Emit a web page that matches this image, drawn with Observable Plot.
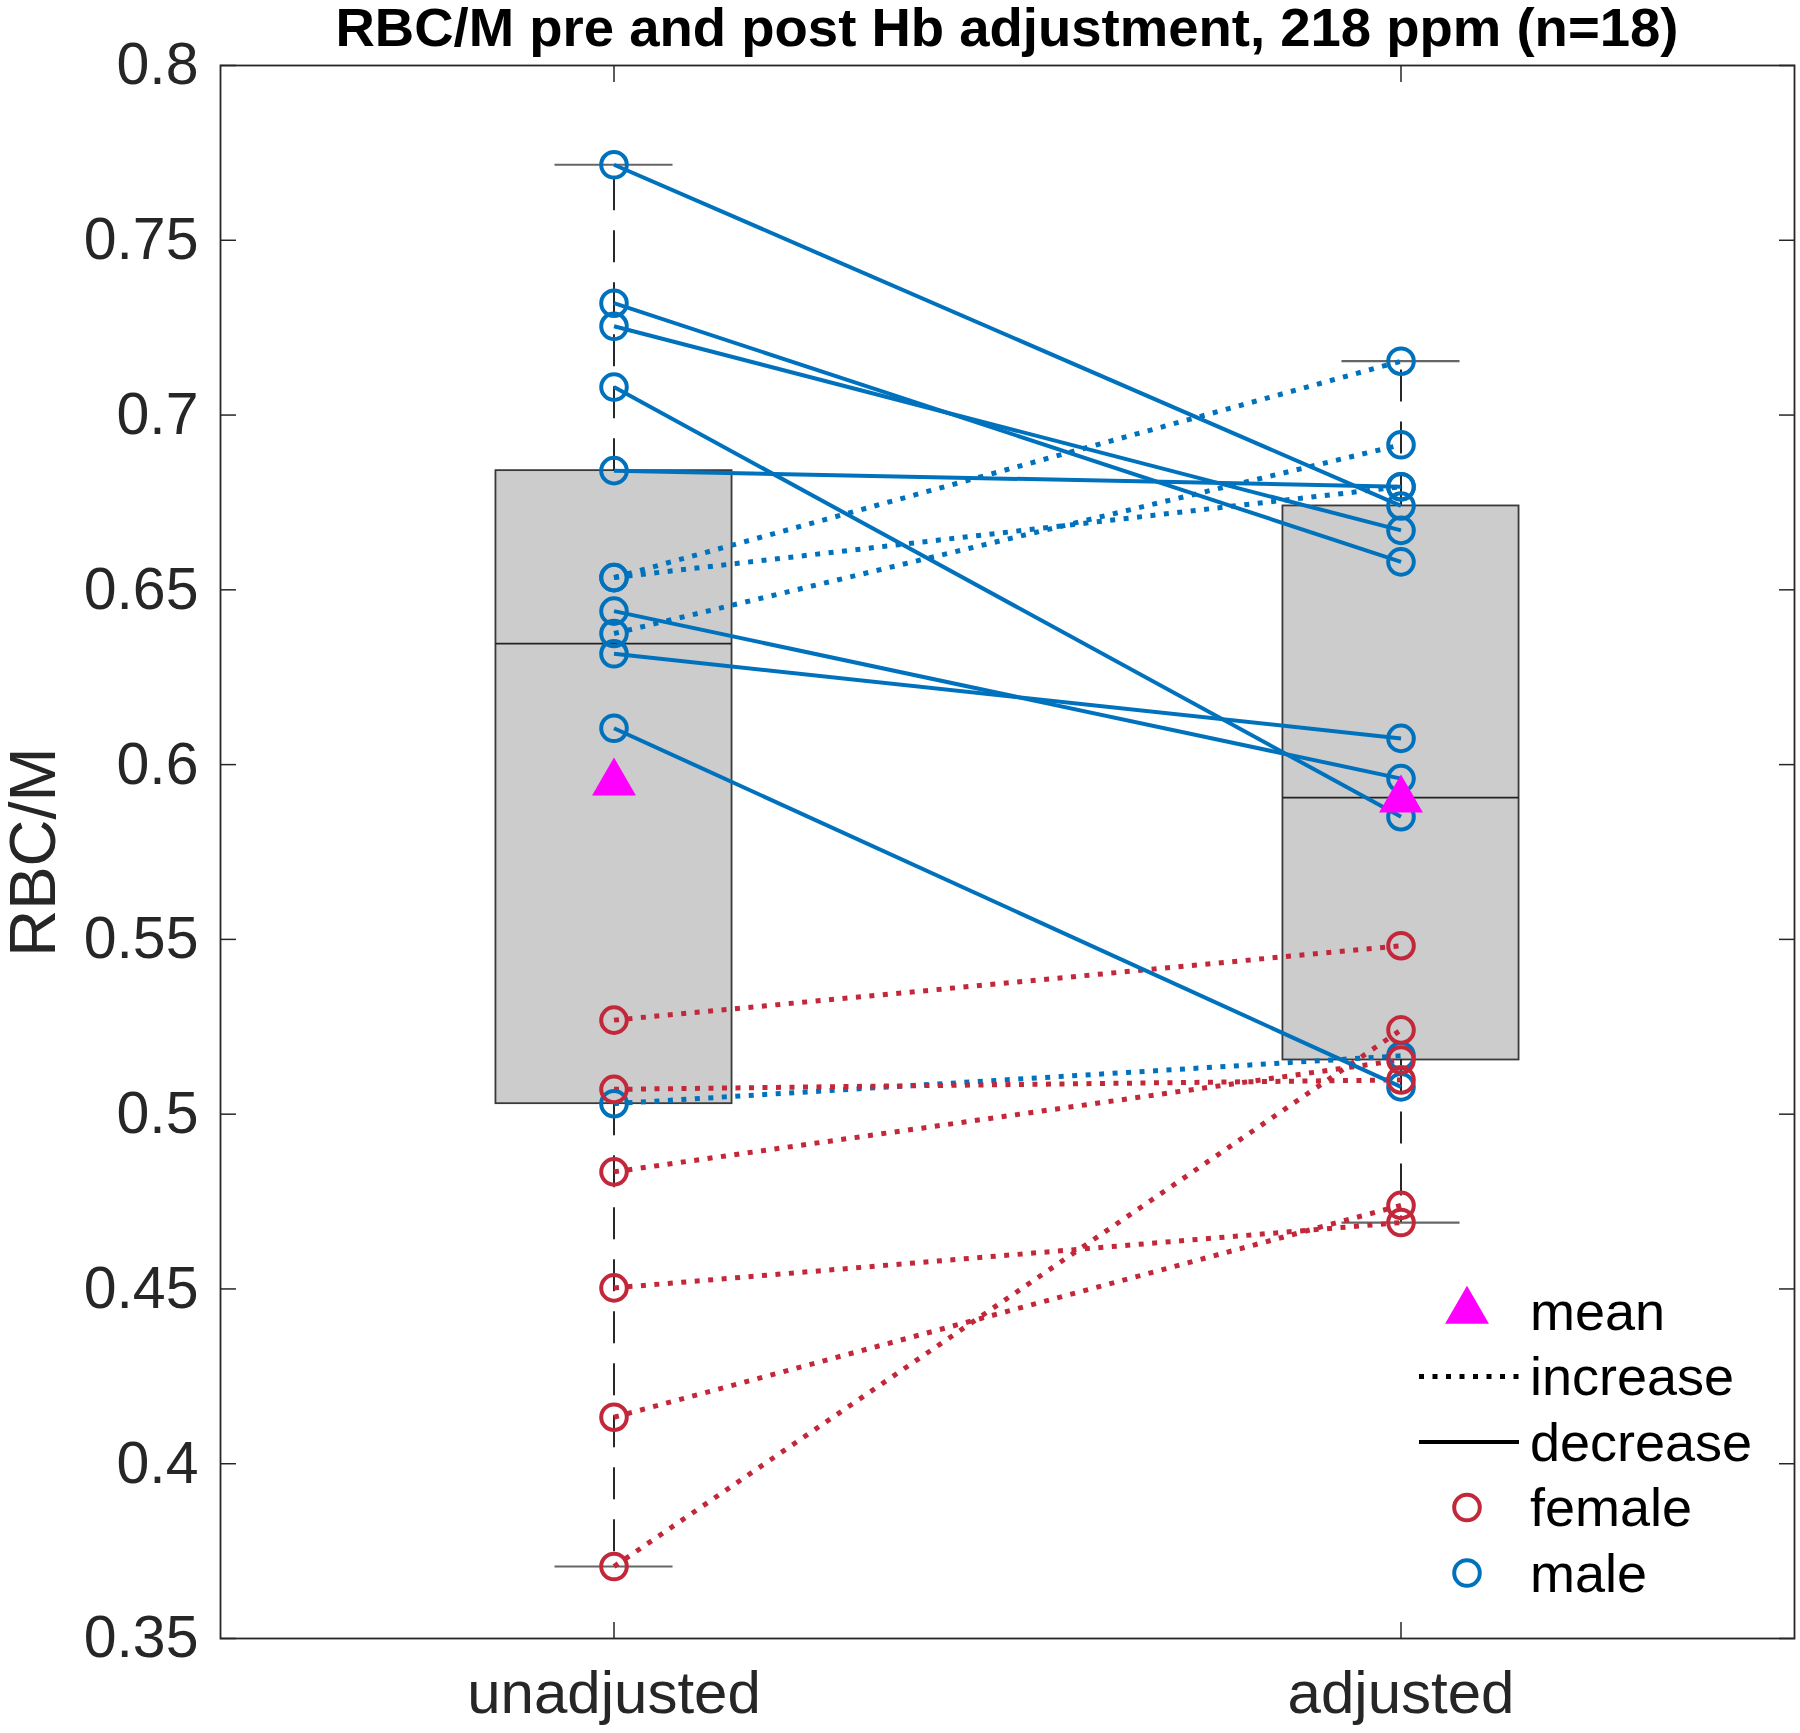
<!DOCTYPE html>
<html>
<head>
<meta charset="utf-8">
<script src="https://cdn.jsdelivr.net/npm/d3@7"></script>
<script src="https://cdn.jsdelivr.net/npm/@observablehq/plot@0.6"></script>
<style>
  body { margin: 0; background: #fff; font-family: "Liberation Sans", Arial, Helvetica, sans-serif; }
  #wrap { position: relative; width: 1800px; height: 1733px; overflow: hidden; }
  #chart { position: absolute; left: 0; top: 0; }
  #title { position: absolute; left: 220px; width: 1574px; top: 0; height: 60px; line-height: 56px;
           text-align: center; font-weight: bold; font-size: 54.5px; color: #000; white-space: nowrap; }
  #legend { position: absolute; left: 0; top: 0; pointer-events: none; }
</style>
</head>
<body>
<div id="wrap">
  <div id="chart"></div>
  <div id="title">RBC/M pre and post Hb adjustment, 218 ppm (n=18)</div>
  <svg id="legend" width="1800" height="1733"></svg>
</div>
<script>
// ---------------- data ----------------
const conditions = ["unadjusted", "adjusted"];
const conditionX = [1, 2];
const subjectSex = [
  "male", "male", "male", "male", "male", "male",
  "male", "male", "male", "male", "male", "male",
  "female", "female", "female", "female", "female", "female"
];
const unadjusted = [
  0.7716, 0.7320, 0.7254, 0.7080, 0.6841, 0.6535,
  0.6535, 0.6375, 0.6439, 0.6317, 0.6104, 0.5030,
  0.5269, 0.5071, 0.4835, 0.4503, 0.4133, 0.3706
];
const adjusted = [
  0.6740, 0.6580, 0.6670, 0.5851, 0.6795, 0.7154,
  0.6795, 0.6915, 0.5960, 0.6075, 0.5078, 0.5167,
  0.5482, 0.5098, 0.5155, 0.4690, 0.4739, 0.5241
];
const yTicks = [0.35, 0.4, 0.45, 0.5, 0.55, 0.6, 0.65, 0.7, 0.75, 0.8];
const legendLabels = ["mean", "increase", "decrease", "female", "male"];
const sexDomain = ["male", "female"];

// ---------------- styles ----------------
const BLUE = "#0072BD", RED = "#C3283A", MAGENTA = "#FF00FF";
const AXIS = "#262626";
const FONT = '"Liberation Sans", Arial, Helvetica, sans-serif';
const BOX_HALF = 0.15, CAP_HALF = 0.075;
const DOT_R = 12.8, DOT_SW = 4;
const TRI_R = 16.3;
const DOTTED = "5,8.5", DOTTED_W = 5, SOLID_W = 4;

// ---------------- derived ----------------
const subjects = subjectSex.map((sex, i) => ({
  sex, pre: unadjusted[i], post: adjusted[i],
  dir: adjusted[i] >= unadjusted[i] ? "increase" : "decrease"
}));
const ordered = [...subjects.filter(d => d.sex === "male"), ...subjects.filter(d => d.sex === "female")];
const points = ordered.flatMap(d => [
  {x: conditionX[0], y: d.pre, sex: d.sex},
  {x: conditionX[1], y: d.post, sex: d.sex}
]);

// MATLAB-style percentile (midpoint method)
function pct(values, p) {
  const s = [...values].sort((a, b) => a - b), n = s.length;
  const pos = p * n + 0.5;
  if (pos <= 1) return s[0];
  if (pos >= n) return s[n - 1];
  const i = Math.floor(pos), f = pos - i;
  return s[i - 1] + f * (s[i] - s[i - 1]);
}
const stats = [unadjusted, adjusted].map((v, k) => ({
  x: conditionX[k],
  q1: pct(v, 0.25), med: pct(v, 0.5), q3: pct(v, 0.75),
  lo: d3.min(v), hi: d3.max(v), mean: d3.mean(v)
}));

const chart = Plot.plot({
  width: 1800, height: 1733,
  marginTop: 65, marginBottom: 95, marginLeft: 220, marginRight: 6,
  x: {domain: [0.5, 2.5]},
  y: {domain: [0.35, 0.8]},
  color: {domain: sexDomain, range: [BLUE, RED]},
  style: {fontFamily: FONT, background: "#fff", overflow: "visible"},
  marks: [
    // boxes
    Plot.rect(stats, {x1: d => d.x - BOX_HALF, x2: d => d.x + BOX_HALF, y1: "q1", y2: "q3",
      fill: "#cccccc", stroke: "#3a3a3a", strokeWidth: 1.8}),
    Plot.ruleY(stats, {y: "med", x1: d => d.x - BOX_HALF, x2: d => d.x + BOX_HALF, stroke: "#222", strokeWidth: 1.8}),
    // whiskers
    Plot.ruleX(stats, {x: "x", y1: "q3", y2: "hi", stroke: "#111", strokeWidth: 1.8, strokeDasharray: "32,20"}),
    Plot.ruleX(stats, {x: "x", y1: "q1", y2: "lo", stroke: "#111", strokeWidth: 1.8, strokeDasharray: "32,20"}),
    Plot.ruleY(stats, {y: "hi", x1: d => d.x - CAP_HALF, x2: d => d.x + CAP_HALF, stroke: "#666", strokeWidth: 2.2}),
    Plot.ruleY(stats, {y: "lo", x1: d => d.x - CAP_HALF, x2: d => d.x + CAP_HALF, stroke: "#666", strokeWidth: 2.2}),
    // subject lines
    Plot.link(ordered.filter(d => d.dir === "increase"), {
      x1: () => conditionX[0], x2: () => conditionX[1], y1: "pre", y2: "post", stroke: "sex",
      strokeWidth: DOTTED_W, strokeDasharray: DOTTED, strokeLinecap: "butt"}),
    Plot.link(ordered.filter(d => d.dir === "decrease"), {
      x1: () => conditionX[0], x2: () => conditionX[1], y1: "pre", y2: "post", stroke: "sex",
      strokeWidth: SOLID_W}),
    // subject points
    Plot.dot(points, {x: "x", y: "y", stroke: "sex", r: DOT_R, strokeWidth: DOT_SW, fill: "none"}),
    // means
    Plot.dot(stats, {x: "x", y: "mean", symbol: "triangle", r: TRI_R, fill: MAGENTA, stroke: "none"}),
    // frame and axes
    Plot.frame({stroke: AXIS, strokeWidth: 1.8}),
    Plot.axisY({anchor: "left", ticks: yTicks, tickSize: -16, tickPadding: 38, tickFormat: d => String(d),
      fontSize: 59, color: AXIS, strokeWidth: 1.5, label: null}),
    Plot.axisY({anchor: "right", ticks: yTicks, tickSize: -16, tickFormat: () => "", color: AXIS, strokeWidth: 1.5, label: null}),
    Plot.axisX({anchor: "bottom", ticks: conditionX, tickSize: -16, tickPadding: 48,
      tickFormat: d => conditions[conditionX.indexOf(d)], fontSize: 60, color: AXIS, strokeWidth: 1.5, label: null}),
    Plot.axisX({anchor: "top", ticks: conditionX, tickSize: -16, tickFormat: () => "", color: AXIS, strokeWidth: 1.5, label: null}),
    // y label
    Plot.text(["RBC/M"], {frameAnchor: "left", textAnchor: "middle", rotate: -90, dx: -186, fontSize: 65, fill: AXIS})
  ]
});
document.getElementById("chart").appendChild(chart);

// ---------------- legend (inside axes, lower right) ----------------
const lg = d3.select("#legend");
const rowY0 = 1311, rowStep = 65.5, symX = 1467, lineX1 = 1419, lineX2 = 1519, textX = 1530;
legendLabels.forEach((label, i) => {
  const y = rowY0 + i * rowStep;
  if (label === "mean") {
    lg.append("path").attr("d", d3.symbol(d3.symbolTriangle, Math.PI * TRI_R * TRI_R)())
      .attr("transform", `translate(${symX},${y})`).attr("fill", MAGENTA);
  } else if (label === "increase") {
    lg.append("line").attr("x1", lineX1).attr("x2", lineX2).attr("y1", y).attr("y2", y)
      .attr("stroke", "#000").attr("stroke-width", DOTTED_W).attr("stroke-dasharray", DOTTED);
  } else if (label === "decrease") {
    lg.append("line").attr("x1", lineX1).attr("x2", lineX2).attr("y1", y).attr("y2", y)
      .attr("stroke", "#000").attr("stroke-width", SOLID_W);
  } else {
    lg.append("circle").attr("cx", symX).attr("cy", y).attr("r", DOT_R)
      .attr("fill", "none").attr("stroke", label === "female" ? RED : BLUE).attr("stroke-width", DOT_SW);
  }
  lg.append("text").attr("x", textX).attr("y", y).attr("dy", "0.35em")
    .attr("font-family", FONT).attr("font-size", 54).attr("fill", "#000").text(label);
});
</script>
</body>
</html>
